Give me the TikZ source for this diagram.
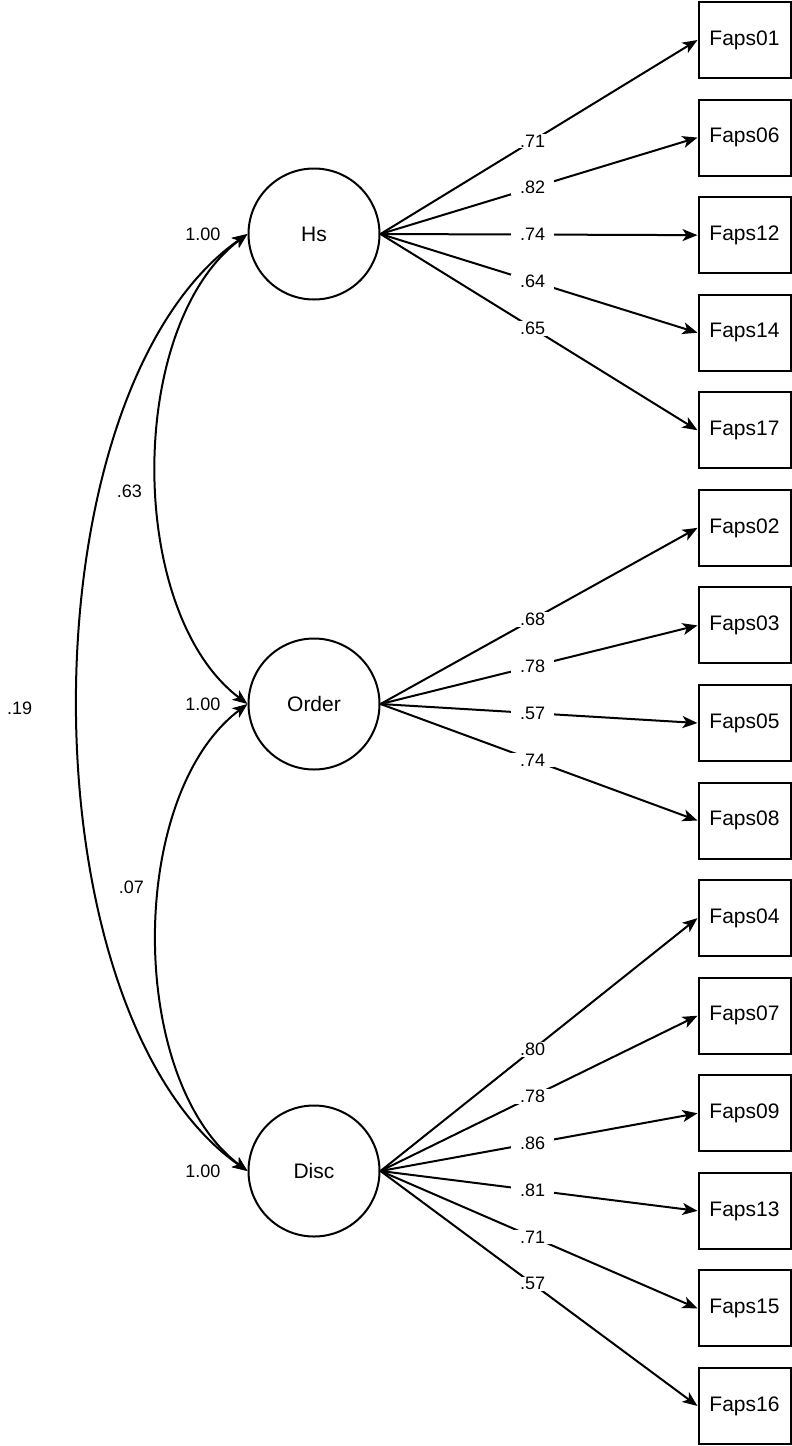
\documentclass[tikz,border=0pt]{standalone}
\usepackage{fontspec}
\setmainfont{Liberation Sans}
\usetikzlibrary{arrows.meta,positioning}
\tikzset{
  latent/.style={draw, circle, line width=2pt, minimum size=131pt, inner sep=0pt, font=\fontsize{21}{25}\selectfont},
  item/.style={draw, rectangle, line width=2pt, minimum width=92pt, minimum height=76pt, inner sep=0pt, font=\fontsize{21}{25}\selectfont},
  load/.style={-{Stealth[length=15pt,width=12pt,inset=4pt]}, line width=2pt},
  cov/.style={{Stealth[length=15pt,width=12pt,inset=4pt]}-{Stealth[length=15pt,width=12pt,inset=4pt]}, line width=2pt},
  lbl/.style={font=\fontsize{18}{21}\selectfont, inner sep=2pt},
  coef/.style={lbl, fill=white, inner xsep=9pt, inner ysep=1pt, pos=0.48},
}
\begin{document}
\begin{tikzpicture}[x=1pt,y=1pt]
	\useasboundingbox (0,0) rectangle (792,-1446);
	% latent factors
	\node[latent] (hs) at (314,-234) {Hs};
	\node[latent] (order) at (314,-704) {Order};
	\node[latent] (disc) at (314,-1171) {Disc};
	\node[lbl, left=25pt of hs.west] {1.00};
	\node[lbl, left=25pt of order.west] {1.00};
	\node[lbl, left=25pt of disc.west] {1.00};
	
	% items
	\foreach \name [count=\i from 0] in {01,06,12,14,17,02,03,05,08,04,07,09,13,15,16}
		\node[item] (f\name) at (744.5,{-40-97.57*\i}) {Faps\name};
	
	% loadings
	\foreach \name/\val in {01/.71,06/.82,12/.74,14/.64,17/.65}
		\draw[load] (hs.east) -- node[coef] {\val} (f\name.west);
	\foreach \name/\val in {02/.68,03/.78,05/.57,08/.74}
		\draw[load] (order.east) -- node[coef] {\val} (f\name.west);
	\foreach \name/\val in {04/.80,07/.78,09/.86,13/.81,15/.71,16/.57}
		\draw[load] (disc.east) -- node[coef] {\val} (f\name.west);
	
	% correlations
	\draw[cov] (hs.west) to[out=217,in=143,looseness=0.83] node[lbl, pos=0.54, left=12pt] {.63} (order.west);
	\draw[cov] (order.west) to[out=217,in=143,looseness=0.83] node[lbl, pos=0.41, left=13pt] {.07} (disc.west);
	\draw[cov] (hs.west) to[out=215,in=145,looseness=0.755] node[lbl, pos=0.505, left=43pt] {.19} (disc.west);
\end{tikzpicture}
\end{document}
